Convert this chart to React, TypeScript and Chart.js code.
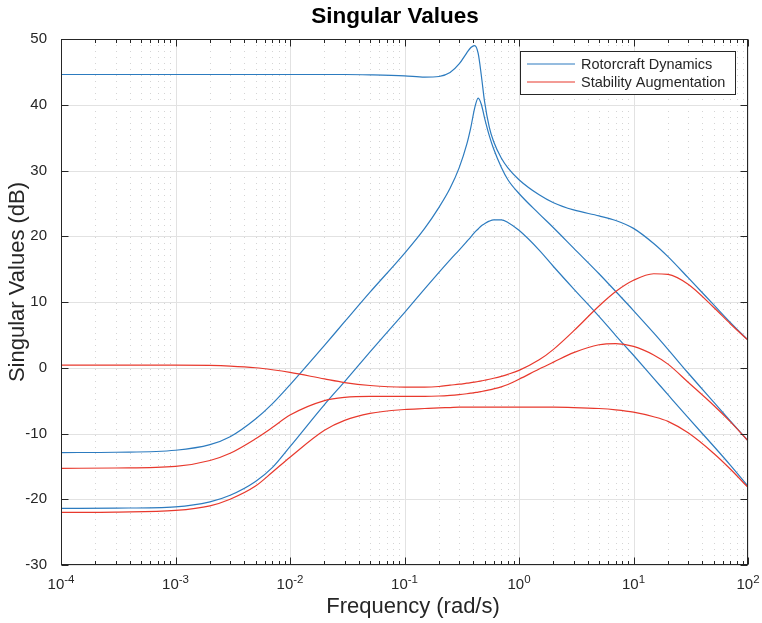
import React, { useEffect, useRef } from "react";
import { Chart, registerables } from "chart.js";

Chart.register(...registerables);

// Frequency grid (rad/s) shared by every singular-value trace
const FREQ = [
  1e-4, 3e-4, 1e-3, 2e-3, 3e-3, 5e-3, 7e-3, 1e-2, 2e-2, 3e-2, 5e-2,
  0.1, 0.15, 0.2, 0.25, 0.3, 0.35, 0.38, 0.41, 0.44, 0.47, 0.5, 0.55, 0.6, 0.7, 0.8,
  1, 1.5, 2, 3, 5, 7, 10, 15, 20, 30, 50, 70, 100,
];

// Rotorcraft dynamics singular values (dB)
const ROTOR_SV1 = [
  44.6, 44.6, 44.6, 44.6, 44.6, 44.6, 44.6, 44.6, 44.6, 44.6, 44.55,
  44.4, 44.2, 44.3, 44.9, 46.2, 47.9, 48.7, 49.0, 47.8, 44.3, 40.5, 36.6, 34.4, 31.9, 30.4,
  28.6, 26.3, 25.1, 24.0, 23.1, 22.4, 21.2, 18.9, 16.9, 13.7, 9.6, 6.9, 4.2,
];
const ROTOR_SV2 = [
  -12.9, -12.85, -12.55, -11.7, -10.5, -7.8, -5.5, -2.6, 3.4, 7.0, 11.5,
  17.4, 21.2, 24.4, 27.3, 30.4, 34.0, 36.6, 39.5, 41.0, 40.0, 38.0, 35.3, 33.3, 30.5, 28.6,
  26.5, 23.4, 21.3, 18.2, 14.3, 11.6, 8.7, 5.3, 2.8, -0.8, -5.2, -8.1, -11.1,
];
const ROTOR_SV3 = [
  -21.4, -21.35, -21.15, -20.4, -19.4, -17.3, -15.2, -12.0, -5.6, -2.1, 2.4,
  8.4, 12.0, 14.5, 16.4, 17.9, 19.2, 19.9, 20.6, 21.1, 21.6, 21.9, 22.3, 22.5, 22.5, 22.1,
  20.9, 17.9, 15.4, 12.0, 7.8, 4.9, 1.9, -1.6, -4.1, -7.6, -11.9, -14.8, -18.0,
];

// Stability augmentation singular values (dB)
const SAS_SV1 = [
  0.4, 0.4, 0.4, 0.35, 0.25, 0.0, -0.3, -0.7, -1.7, -2.25, -2.7,
  -2.95, -2.95, -2.85, -2.65, -2.5, -2.35, -2.27, -2.18, -2.09, -2.0, -1.9, -1.75, -1.6, -1.3, -1.0,
  -0.4, 1.2, 2.8, 5.6, 9.4, 11.6, 13.3, 14.3, 14.2, 12.7, 9.2, 6.7, 4.2,
];
const SAS_SV2 = [
  -15.3, -15.25, -15.0, -14.1, -13.0, -10.8, -9.1, -7.2, -5.0, -4.5, -4.35,
  -4.35, -4.35, -4.3, -4.2, -4.08, -3.95, -3.87, -3.78, -3.7, -3.61, -3.52, -3.37, -3.22, -2.9, -2.55,
  -1.75, -0.2, 0.85, 2.3, 3.5, 3.68, 3.25, 1.95, 0.55, -2.2, -5.7, -8.2, -11.1,
];
const SAS_SV3 = [
  -22.0, -21.95, -21.7, -21.0, -20.0, -18.0, -15.9, -13.6, -9.5, -8.0, -6.95,
  -6.35, -6.2, -6.1, -6.05, -6.0, -6.0, -6.0, -6.0, -6.0, -6.0, -6.0, -6.0, -6.0, -6.0, -6.0,
  -6.0, -6.0, -6.0, -6.05, -6.2, -6.4, -6.75, -7.45, -8.15, -9.9, -13.0, -15.4, -18.2,
];

const SERIES_NAMES = ["Rotorcraft Dynamics", "Stability Augmentation"];
const X_DECADES = [-4, -3, -2, -1, 0, 1, 2];
const Y_MIN = -30;
const Y_MAX = 50;
const Y_STEP = 10;

const BLUE = "#2c7bbf";
const RED = "#e8392d";
const AXIS = "#262626";
const GRID_MAJOR = "#e2e2e2";
const GRID_MINOR = "rgba(38,38,38,0.2)";
const FONT = '"Liberation Sans", Arial, Helvetica, sans-serif';

const toPoints = (vals: number[]) => FREQ.map((f, i) => ({ x: f, y: vals[i] }));

const frame = {
  id: "frame",
  beforeDatasetsDraw(chart: any) {
    const { ctx, chartArea: a, scales } = chart;
    const x = scales.x;
    const y = scales.y;
    ctx.save();
    ctx.lineWidth = 1;
    // minor (dotted) grid on the log axis
    ctx.strokeStyle = GRID_MINOR;
    ctx.setLineDash([1, 5]);
    for (let d = 0; d < X_DECADES.length - 1; d++) {
      for (let m = 2; m <= 9; m++) {
        const px = Math.round(x.getPixelForValue(m * Math.pow(10, X_DECADES[d]))) + 0.5;
        ctx.beginPath();
        ctx.moveTo(px, a.top);
        ctx.lineTo(px, a.bottom);
        ctx.stroke();
      }
    }
    // major grid
    ctx.setLineDash([]);
    ctx.strokeStyle = GRID_MAJOR;
    for (const e of X_DECADES) {
      const px = Math.round(x.getPixelForValue(Math.pow(10, e))) + 0.5;
      ctx.beginPath();
      ctx.moveTo(px, a.top);
      ctx.lineTo(px, a.bottom);
      ctx.stroke();
    }
    for (const t of y.ticks) {
      const py = Math.round(y.getPixelForValue(t.value)) + 0.5;
      ctx.beginPath();
      ctx.moveTo(a.left, py);
      ctx.lineTo(a.right, py);
      ctx.stroke();
    }
    ctx.restore();
  },
  afterDatasetsDraw(chart: any) {
    const { ctx, chartArea: a, scales } = chart;
    const x = scales.x;
    const y = scales.y;
    const L = Math.round(a.left) + 0.5;
    const R = Math.round(a.right) - 0.5;
    const T = Math.round(a.top) + 0.5;
    const B = Math.round(a.bottom) - 0.5;
    ctx.save();
    ctx.strokeStyle = AXIS;
    ctx.lineWidth = 1;
    ctx.strokeRect(L, T, R - L, B - T);

    // inward tick marks, top/bottom and left/right
    ctx.beginPath();
    for (let d = 0; d < X_DECADES.length; d++) {
      const px = Math.round(x.getPixelForValue(Math.pow(10, X_DECADES[d]))) + 0.5;
      ctx.moveTo(px, B); ctx.lineTo(px, B - 7);
      ctx.moveTo(px, T); ctx.lineTo(px, T + 7);
      if (d < X_DECADES.length - 1) {
        for (let m = 2; m <= 9; m++) {
          const q = Math.round(x.getPixelForValue(m * Math.pow(10, X_DECADES[d]))) + 0.5;
          ctx.moveTo(q, B); ctx.lineTo(q, B - 3.5);
          ctx.moveTo(q, T); ctx.lineTo(q, T + 3.5);
        }
      }
    }
    for (const t of y.ticks) {
      const py = Math.round(y.getPixelForValue(t.value)) + 0.5;
      ctx.moveTo(L, py); ctx.lineTo(L + 7, py);
      ctx.moveTo(R, py); ctx.lineTo(R - 7, py);
    }
    ctx.stroke();

    // x tick labels 10^k
    ctx.fillStyle = AXIS;
    ctx.textBaseline = "alphabetic";
    ctx.textAlign = "left";
    for (const e of X_DECADES) {
      const px = x.getPixelForValue(Math.pow(10, e));
      const base = "10";
      const sup = String(e);
      ctx.font = `15px ${FONT}`;
      const wb = ctx.measureText(base).width;
      ctx.font = `11.5px ${FONT}`;
      const ws = ctx.measureText(sup).width;
      const x0 = px - (wb + ws) / 2;
      ctx.font = `15px ${FONT}`;
      ctx.fillText(base, x0, 588.5);
      ctx.font = `11.5px ${FONT}`;
      ctx.fillText(sup, x0 + wb, 582.5);
    }

    // title and axis labels
    ctx.textAlign = "center";
    ctx.textBaseline = "middle";
    ctx.font = `bold 22.5px ${FONT}`;
    ctx.fillStyle = "#000";
    ctx.fillText("Singular Values", 395, 17);
    ctx.fillStyle = AXIS;
    ctx.font = `22px ${FONT}`;
    ctx.fillText("Frequency (rad/s)", 413, 607);
    ctx.save();
    ctx.translate(18, 282);
    ctx.rotate(-Math.PI / 2);
    ctx.fillText("Singular Values (dB)", 0, 0);
    ctx.restore();

    // legend
    const lx = 520.5, ly = 51.5, lw = 215, lh = 43;
    ctx.fillStyle = "#fff";
    ctx.fillRect(lx, ly, lw, lh);
    ctx.strokeStyle = AXIS;
    ctx.strokeRect(lx, ly, lw, lh);
    const rows = [
      { name: SERIES_NAMES[0], color: BLUE, yy: 64 },
      { name: SERIES_NAMES[1], color: RED, yy: 82 },
    ];
    ctx.textAlign = "left";
    ctx.textBaseline = "middle";
    ctx.font = `14.5px ${FONT}`;
    for (const r of rows) {
      ctx.strokeStyle = r.color;
      ctx.lineWidth = 1.2;
      ctx.beginPath();
      ctx.moveTo(527, r.yy);
      ctx.lineTo(575, r.yy);
      ctx.stroke();
      ctx.fillStyle = AXIS;
      ctx.fillText(r.name, 581, r.yy + 0.5);
    }
    ctx.restore();
  },
};

export default function App() {
  const ref = useRef<HTMLCanvasElement | null>(null);

  useEffect(() => {
    if (!ref.current) return;
    const line = (data: number[], color: string, order: number) => ({
      data: toPoints(data),
      borderColor: color,
      backgroundColor: color,
      borderWidth: 1.2,
      pointRadius: 0,
      cubicInterpolationMode: "monotone" as const,
      fill: false,
      order,
    });
    const chart = new Chart(ref.current, {
      type: "line",
      data: {
        datasets: [
          { label: SERIES_NAMES[0], ...line(ROTOR_SV1, BLUE, 2) },
          { label: SERIES_NAMES[0], ...line(ROTOR_SV2, BLUE, 2) },
          { label: SERIES_NAMES[0], ...line(ROTOR_SV3, BLUE, 2) },
          { label: SERIES_NAMES[1], ...line(SAS_SV1, RED, 1) },
          { label: SERIES_NAMES[1], ...line(SAS_SV2, RED, 1) },
          { label: SERIES_NAMES[1], ...line(SAS_SV3, RED, 1) },
        ],
      },
      options: {
        responsive: false,
        animation: false,
        devicePixelRatio: 1,
        layout: { padding: { top: 39, right: 14, left: 0, bottom: 0 } },
        plugins: {
          legend: { display: false },
          tooltip: { enabled: false },
          title: { display: false },
        },
        scales: {
          x: {
            type: "logarithmic",
            min: 1e-4,
            max: 100,
            ticks: { display: false },
            grid: { display: false },
            border: { display: false },
            afterFit: (s: any) => { s.height = 58; },
          },
          y: {
            type: "linear",
            min: Y_MIN,
            max: Y_MAX,
            ticks: {
              stepSize: Y_STEP,
              color: AXIS,
              padding: 6,
              font: { family: FONT, size: 15 },
            },
            grid: { display: false },
            border: { display: false },
            afterFit: (s: any) => { s.width = 61; },
          },
        },
      },
      plugins: [frame],
    });
    return () => chart.destroy();
  }, []);

  return (
    <div style={{ position: "fixed", left: 0, top: 0, width: 762, height: 623, background: "#fff" }}>
      <canvas ref={ref} width={762} height={623} style={{ display: "block" }} />
    </div>
  );
}
